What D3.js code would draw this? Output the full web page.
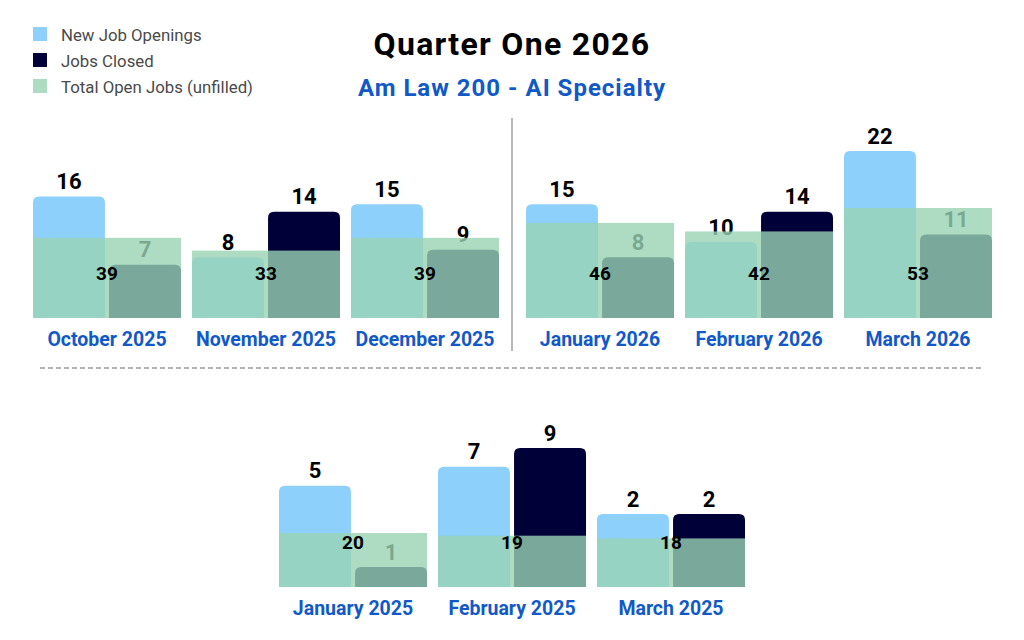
<!DOCTYPE html>
<html>
<head>
<meta charset="utf-8">
<script src="https://cdn.jsdelivr.net/npm/d3@7"></script>
<style>
  html, body { margin: 0; padding: 0; background: #fff; }
  svg { display: block; font-family: Roboto, "Noto Sans", sans-serif; }
</style>
</head>
<body>
<svg id="chart" width="1024" height="640"></svg>
<script>
// ---------------- DATA ----------------
const seriesNames = ["New Job Openings", "Jobs Closed", "Total Open Jobs (unfilled)"];

const monthsQ4_2025 = ["October 2025", "November 2025", "December 2025"];
const newQ4_2025 = [16, 8, 15];
const closedQ4_2025 = [7, 14, 9];
const totalQ4_2025 = [39, 33, 39];

const monthsQ1_2026 = ["January 2026", "February 2026", "March 2026"];
const newQ1_2026 = [15, 10, 22];
const closedQ1_2026 = [8, 14, 11];
const totalQ1_2026 = [46, 42, 53];

const monthsQ1_2025 = ["January 2025", "February 2025", "March 2025"];
const newQ1_2025 = [5, 7, 2];
const closedQ1_2025 = [1, 9, 2];
const totalQ1_2025 = [20, 19, 18];

const titleText = "Quarter One 2026";
const subtitleText = "Am Law 200 - AI Specialty";

// ---------------- STYLE ----------------
const C_NEW = "#8dd0fb";
const C_CLOSED = "#000038";
const C_TOTAL = "rgb(153,211,180)";
const TOTAL_OPACITY = 0.8;
const C_BLUE_TEXT = "#1259c8";

const svg = d3.select("#chart");

// Title
svg.append("text").attr("x", 512).attr("y", 55).attr("text-anchor", "middle")
  .attr("font-size", 32).attr("font-weight", 700).attr("letter-spacing", 1.3)
  .attr("fill", "#000").text(titleText);
svg.append("text").attr("x", 512).attr("y", 96).attr("text-anchor", "middle")
  .attr("font-size", 24).attr("font-weight", 700).attr("letter-spacing", 1.0)
  .attr("fill", C_BLUE_TEXT).text(subtitleText);

// Legend
const legendColors = [C_NEW, C_CLOSED, C_TOTAL];
const legend = svg.append("g");
seriesNames.forEach((name, i) => {
  const g = legend.append("g").attr("transform", `translate(33, ${27 + i * 26})`);
  g.append("rect").attr("width", 14).attr("height", 14)
    .attr("fill", legendColors[i]).attr("fill-opacity", i === 2 ? TOTAL_OPACITY : 1);
  g.append("text").attr("x", 28).attr("y", 13.5).attr("font-size", 16.8)
    .attr("fill", "#4a4a4a").text(name);
});

// Separators
svg.append("line").attr("x1", 512).attr("x2", 512).attr("y1", 118).attr("y2", 351)
  .attr("stroke", "#8a8a8a").attr("stroke-width", 1.2);
svg.append("line").attr("x1", 40).attr("x2", 984).attr("y1", 368).attr("y2", 368)
  .attr("stroke", "#b5b5b5").attr("stroke-width", 2).attr("stroke-dasharray", "5,3");

function topRounded(x, y, w, h, r) {
  r = Math.min(r, h, w / 2);
  return `M${x},${y + h}V${y + r}Q${x},${y} ${x + r},${y}H${x + w - r}Q${x + w},${y} ${x + w},${y + r}V${y + h}Z`;
}

function panel(months, newVals, closedVals, totalVals, xRange, baseline, barScale, totalScale) {
  const x = d3.scaleBand().domain(months).range(xRange).paddingInner(0.069).paddingOuter(0);
  const sub = d3.scaleBand().domain(["new", "closed"]).range([0, x.bandwidth()]).paddingInner(0.054);
  const g = svg.append("g");
  const rows = months.map((m, i) => ({ m, n: newVals[i], c: closedVals[i], t: totalVals[i] }));

  // bars + their value labels (under the total overlay)
  rows.forEach(d => {
    const x0 = x(d.m);
    const yN = barScale(d.n), yC = barScale(d.c);
    g.append("path").attr("d", topRounded(x0 + sub("new"), yN, sub.bandwidth(), baseline - yN, 6)).attr("fill", C_NEW);
    g.append("path").attr("d", topRounded(x0 + sub("closed"), yC, sub.bandwidth(), baseline - yC, 6)).attr("fill", C_CLOSED);
    g.append("text").attr("x", x0 + sub("new") + sub.bandwidth() / 2).attr("y", yN - 7.5)
      .attr("text-anchor", "middle").attr("font-size", 22).attr("font-weight", 700).attr("fill", "#000").text(d.n);
    g.append("text").attr("x", x0 + sub("closed") + sub.bandwidth() / 2).attr("y", yC - 7.5)
      .attr("text-anchor", "middle").attr("font-size", 22).attr("font-weight", 700).attr("fill", "#000").text(d.c);
  });
  // total overlay
  rows.forEach(d => {
    const x0 = x(d.m);
    const yT = totalScale(d.t);
    g.append("rect").attr("x", x0).attr("y", yT).attr("width", x.bandwidth()).attr("height", baseline - yT)
      .attr("fill", C_TOTAL).attr("fill-opacity", TOTAL_OPACITY);
    g.append("text").attr("x", x0 + x.bandwidth() / 2).attr("y", baseline - 38)
      .attr("text-anchor", "middle").attr("font-size", 19).attr("font-weight", 700).attr("fill", "#000").text(d.t);
    g.append("text").attr("x", x0 + x.bandwidth() / 2).attr("y", baseline + 28)
      .attr("text-anchor", "middle").attr("font-size", 19.5).attr("font-weight", 700).attr("fill", C_BLUE_TEXT).text(d.m);
  });
}

// Top panels
const topBase = 318;
const topBar = d3.scaleLinear().domain([0, 22]).range([topBase, 151]);
const topTotal = d3.scaleLinear().domain([30, 53]).range([257, 208]);
panel(monthsQ4_2025, newQ4_2025, closedQ4_2025, totalQ4_2025, [33, 499], topBase, topBar, topTotal);
panel(monthsQ1_2026, newQ1_2026, closedQ1_2026, totalQ1_2026, [526, 992], topBase, topBar, topTotal);

// Bottom panel
const botBase = 587;
const botBar = d3.scaleLinear().domain([0, 1, 2, 9]).range([botBase, 567, 514, 448]);
const botTotal = d3.scaleLinear().domain([0, 20]).range([botBase, 533]);
panel(monthsQ1_2025, newQ1_2025, closedQ1_2025, totalQ1_2025, [279, 745], botBase, botBar, botTotal);
</script>
</body>
</html>
